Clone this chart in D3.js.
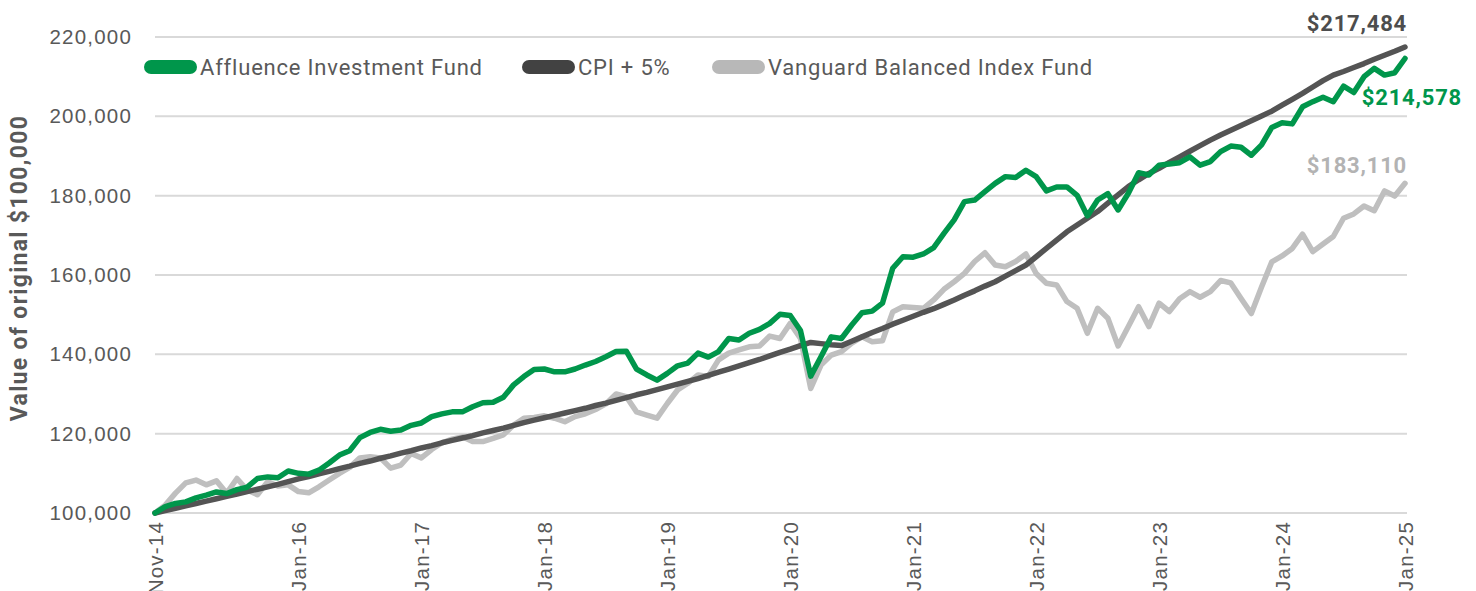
<!DOCTYPE html>
<html>
<head>
<meta charset="utf-8">
<script src="https://cdn.jsdelivr.net/npm/d3@7"></script>
<style>
  html, body { margin: 0; padding: 0; background: #fff; }
  svg { display: block; font-family: Roboto, "Open Sans", sans-serif; }
  .tick-label { fill: #595959; font-size: 20.5px; letter-spacing: 1.2px; }
  .legend-label { fill: #595959; font-size: 22px; letter-spacing: 0.8px; }
  .end-label { font-size: 22px; font-weight: 700; letter-spacing: 0.8px; }
</style>
</head>
<body>
<svg id="chart" width="1476" height="591"></svg>
<script>
// tick labels on the category axis (index into the monthly series)
const xTickIndex = [0, 14, 26, 38, 50, 62, 74, 86, 98, 110, 122];
const xTickLabels = ["Nov-14", "Jan-16", "Jan-17", "Jan-18", "Jan-19", "Jan-20",
  "Jan-21", "Jan-22", "Jan-23", "Jan-24", "Jan-25"];
const yTicks = [100000, 120000, 140000, 160000, 180000, 200000, 220000];

// monthly values, Nov-14 .. Jan-25
const affluence = [
  100000, 101600, 102400, 102800, 103800, 104500, 105300, 104900, 105900, 106500,
  108700, 109100, 108900, 110600, 110000, 109800, 110800, 112600, 114600, 115700,
  119000, 120300, 121100, 120600, 120900, 122100, 122700, 124300, 125000, 125500,
  125500, 126800, 127800, 127900, 129200, 132300, 134400, 136200, 136300, 135600,
  135600, 136300, 137300, 138200, 139400, 140700, 140800, 136300, 134800, 133500,
  135200, 137100, 137800, 140300, 139300, 140700, 144000, 143600, 145300, 146300,
  147800, 150100, 149800, 146000, 134500, 139400, 144400, 144000, 147400, 150500,
  150900, 152900, 161700, 164600, 164500, 165300, 166900, 170500, 173900, 178500,
  178900, 181000, 183100, 184800, 184600, 186400, 184800, 181200, 182200, 182200,
  180100, 174900, 178900, 180500, 176400, 180600, 185800, 185200, 187700, 188000,
  188300, 189800, 187700, 188600, 191100, 192500, 192200, 190200, 192800, 197200,
  198400, 198100, 202400, 203700, 204800, 203700, 207600, 206000, 210000, 212100,
  210400, 211000, 214578
];

const cpiPlus5 = [
  100000, 100600, 101200, 101800, 102400, 103000, 103600, 104200, 104800, 105400,
  106000, 106600, 107200, 107900, 108600, 109200, 109900, 110500, 111200, 111800,
  112500, 113100, 113800, 114400, 115100, 115700, 116400, 117000, 117700, 118300,
  118900, 119500, 120200, 120800, 121400, 122100, 122800, 123400, 124000, 124600,
  125200, 125800, 126400, 127100, 127700, 128400, 129100, 129800, 130400, 131100,
  131800, 132500, 133200, 133900, 134700, 135500, 136300, 137100, 137900, 138700,
  139600, 140500, 141300, 142200, 143000, 142700, 142400, 142200, 143300, 144400,
  145500, 146500, 147600, 148600, 149600, 150600, 151500, 152600, 153700, 154900,
  156000, 157200, 158300, 159700, 161100, 162500, 164600, 166700, 168800, 170900,
  172600, 174300, 176000, 178100, 180200, 182300, 184000, 185600, 186900, 188400,
  189800, 191200, 192600, 194000, 195300, 196500, 197700, 198900, 200100, 201300,
  202800, 204300, 205800, 207400, 209000, 210400, 211300, 212300, 213300, 214400,
  215400, 216400, 217484
];

const vanguard = [
  100000, 102000, 105000, 107600, 108300, 107100, 108100, 105000, 108700, 105800,
  104600, 107900, 106800, 107100, 105400, 105100, 106600, 108300, 110000, 111500,
  113900, 114200, 113900, 111300, 112100, 115000, 113900, 116000, 117700, 118600,
  119200, 118000, 118000, 118800, 119700, 122200, 123900, 124100, 124500, 123900,
  123000, 124300, 125000, 126100, 127500, 130000, 129300, 125500, 124700, 123900,
  127600, 131000, 132700, 134800, 134400, 138600, 140300, 141100, 141900, 142100,
  144600, 144000, 147800, 144000, 131400, 137300, 139800, 140700, 142800, 144400,
  143200, 143400, 150700, 152000, 151800, 151600, 153700, 156400, 158300, 160400,
  163400, 165600, 162500, 162100, 163400, 165300, 160400, 157900, 157500, 153300,
  151600, 145300, 151600, 149100, 142100, 147000, 152000, 147000, 152900, 150800,
  154000, 155800, 154400, 155800, 158600, 158000, 154100, 150300, 157000, 163300,
  164800, 166700, 170300, 165900, 167800, 169700, 174300, 175400, 177400, 176200,
  181200, 179900, 183110
];

const series = [
  { name: "Affluence Investment Fund", values: affluence, color: "#00964b", swatch: "#00964b", labelColor: "#00964b" },
  { name: "CPI + 5%", values: cpiPlus5, color: "#545454", swatch: "#424242", labelColor: "#4d4d4d" },
  { name: "Vanguard Balanced Index Fund", values: vanguard, color: "#bfbfbf", swatch: "#b8b8b8", labelColor: "#b3b3b3" }
];

const svg = d3.select("#chart");
const margin = { left: 155, right: 71, top: 37, bottom: 78 };
const width = 1476, height = 591;

const x = d3.scaleLinear()
  .domain([0, affluence.length - 1])
  .range([margin.left, width - margin.right]);

const y = d3.scaleLinear()
  .domain([100000, 220000])
  .range([height - margin.bottom, margin.top]);

const fmt = d3.format(",");

// gridlines
svg.append("g")
  .selectAll("line")
  .data(yTicks)
  .join("line")
  .attr("x1", x.range()[0])
  .attr("x2", x.range()[1] + 2)
  .attr("y1", d => y(d))
  .attr("y2", d => y(d))
  .attr("stroke", "#d9d9d9")
  .attr("stroke-width", 2);

// y axis labels
const yAxis = svg.append("g")
  .attr("transform", `translate(${margin.left - 23},0)`)
  .call(d3.axisLeft(y).tickValues(yTicks).tickFormat(fmt).tickSize(0).tickPadding(0));
yAxis.select(".domain").remove();
yAxis.selectAll("text")
  .attr("class", "tick-label")
  .attr("font-family", null)
  .attr("font-size", null)
  .attr("fill", null);

// x axis labels
const xAxis = svg.append("g")
  .attr("transform", `translate(0,${height - margin.bottom})`)
  .call(d3.axisBottom(x).tickValues(xTickIndex).tickFormat((d, i) => xTickLabels[i]).tickSize(0));
xAxis.select(".domain").remove();
xAxis.selectAll("text")
  .attr("class", "tick-label")
  .attr("font-family", null)
  .attr("font-size", null)
  .attr("fill", null)
  .attr("text-anchor", "end")
  .attr("transform", "rotate(-90)")
  .attr("x", -8)
  .attr("y", 0)
  .attr("dy", "0.36em");

// y axis title
svg.append("text")
  .attr("transform", "translate(27,268) rotate(-90)")
  .attr("text-anchor", "middle")
  .attr("fill", "#595959")
  .attr("font-size", 23)
  .attr("font-weight", 700)
  .attr("letter-spacing", "1.3px")
  .text("Value of original $100,000");

// lines: grey first, then CPI, then fund on top
const line = d3.line()
  .x((d, i) => x(i))
  .y(d => y(d));

[series[2], series[1], series[0]].forEach(s => {
  svg.append("path")
    .datum(s.values)
    .attr("fill", "none")
    .attr("stroke", s.color)
    .attr("stroke-width", 5.5)
    .attr("stroke-linejoin", "round")
    .attr("stroke-linecap", "round")
    .attr("d", line);
});

// end-value labels
const last = affluence.length - 1;
const endLabels = [
  { s: series[1], dx: 2, dy: -16 },
  { s: series[0], dx: 57, dy: 46 },
  { s: series[2], dx: 2, dy: -10 }
];
svg.append("g")
  .selectAll("text")
  .data(endLabels)
  .join("text")
  .attr("class", "end-label")
  .attr("x", d => x(last) + d.dx)
  .attr("y", d => y(d.s.values[last]) + d.dy)
  .attr("text-anchor", "end")
  .attr("fill", d => d.s.labelColor)
  .text(d => "$" + fmt(d.s.values[last]));

// legend
const legendX = [144, 522, 712];
const legend = svg.append("g")
  .selectAll("g")
  .data(series)
  .join("g")
  .attr("transform", (d, i) => `translate(${legendX[i]},67)`);

legend.append("line")
  .attr("x1", 7)
  .attr("x2", 46)
  .attr("stroke", d => d.swatch)
  .attr("stroke-width", 14)
  .attr("stroke-linecap", "round");

legend.append("text")
  .attr("class", "legend-label")
  .attr("x", 56)
  .attr("dy", "0.36em")
  .text(d => d.name);
</script>
</body>
</html>
